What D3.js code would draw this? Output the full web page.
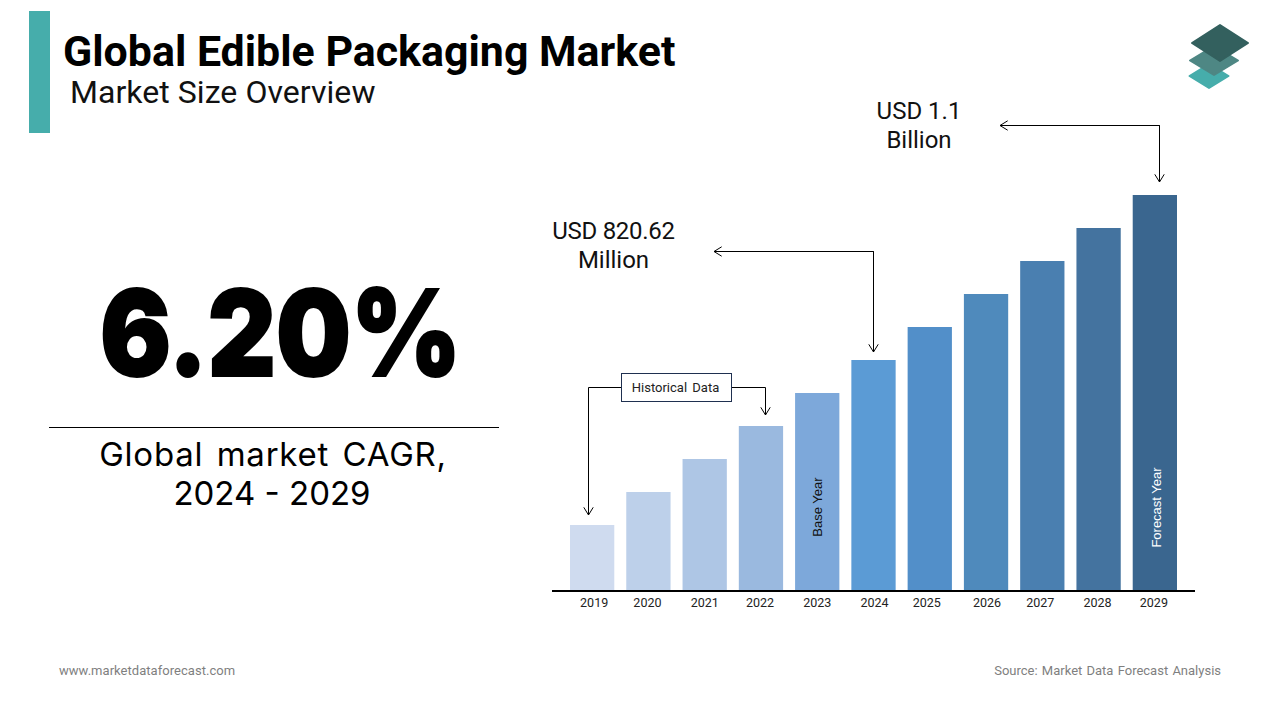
<!DOCTYPE html>
<html>
<head>
<meta charset="utf-8">
<script src="https://cdn.jsdelivr.net/npm/d3@7"></script>
<style>
  html, body { margin: 0; padding: 0; background: #fff; }
  svg { display: block; }
  text { font-family: Roboto, sans-serif; }
</style>
</head>
<body>
<svg id="chart" width="1280" height="720"></svg>
<script>
// Chart data (bar heights in picture units)
const years = ["2019", "2020", "2021", "2022", "2023", "2024", "2025", "2026", "2027", "2028", "2029"];
const sizes = [65, 98, 131, 164, 197, 230, 263, 296, 329, 362, 395];
const barColors = ["#cfdbef", "#bdd0ea", "#aec6e5", "#9ab9df", "#7da8da", "#5b9bd5", "#528fc9", "#4f8abc", "#4a7fb0", "#44739f", "#3a668f"];
// the year labels are not quite centred under the bars in the original
const tickNudge = [2, -1, 0, -1, 0, 1, -3, 1, -2, -1, -1];

const svg = d3.select("#chart");

// Scales
const x = d3.scaleBand().domain(years).range([570, 1177]).paddingInner(0.213).paddingOuter(0);
const y = d3.scaleLinear().domain([0, 395]).range([590, 195]);

// Header
svg.append("rect").attr("x", 29).attr("y", 11).attr("width", 21).attr("height", 122).attr("fill", "#46adab");
svg.append("text").attr("x", 63).attr("y", 66).attr("font-size", 42.9).attr("font-weight", 700).attr("fill", "#000")
  .text("Global Edible Packaging Market");
svg.append("text").attr("x", 70).attr("y", 103).attr("font-size", 32).attr("fill", "#111").attr("letter-spacing", 0.05)
  .text("Market Size Overview");

// Logo, three stacked diamonds
function diamond(cx, cy, w, h, fill) {
  svg.append("path")
    .attr("d", `M${cx},${cy - h + 1} L${cx + w - 1},${cy} L${cx},${cy + h - 1} L${cx - w + 1},${cy} Z`)
    .attr("fill", fill).attr("stroke", fill).attr("stroke-width", 2).attr("stroke-linejoin", "round");
}
diamond(1209, 76, 20.5, 13, "#46adab");
diamond(1214, 60.5, 25, 15.5, "#4e8784");
diamond(1220, 43, 29, 19, "#33605e");

// Left big number
svg.append("text").attr("x", 100).attr("y", 376)
  .style("font-family", "Inter, sans-serif")
  .attr("font-size", 120).attr("font-weight", 900).attr("fill", "#000")
  .attr("stroke", "#000").attr("stroke-width", 2)
  .attr("textLength", 361).attr("lengthAdjust", "spacingAndGlyphs").text("6.20%");
svg.append("line").attr("x1", 49).attr("x2", 499).attr("y1", 427.5).attr("y2", 427.5).attr("stroke", "#000");
svg.append("text").attr("x", 273).attr("y", 466).attr("text-anchor", "middle").style("font-family", "Inter, sans-serif")
  .attr("font-size", 33).attr("fill", "#000").attr("letter-spacing", 0.75).attr("word-spacing", 3.5).text("Global market CAGR,");
svg.append("text").attr("x", 272).attr("y", 505).attr("text-anchor", "middle").style("font-family", "Inter, sans-serif")
  .attr("font-size", 33).attr("fill", "#000").text("2024 - 2029");

// Bars
svg.selectAll("rect.bar")
  .data(years)
  .enter()
  .append("rect")
  .attr("class", "bar")
  .attr("x", d => x(d))
  .attr("y", (d, i) => y(sizes[i]))
  .attr("width", x.bandwidth())
  .attr("height", (d, i) => y(0) - y(sizes[i]))
  .attr("fill", (d, i) => barColors[i]);

// Axis
const axis = svg.append("g").attr("transform", "translate(0,590)")
  .call(d3.axisBottom(x).tickSize(0).tickPadding(8));
axis.select(".domain").remove();
axis.selectAll("text")
  .attr("dx", (d, i) => tickNudge[i])
  .attr("font-size", 12.5).attr("fill", "#222").style("font-family", "Roboto, sans-serif");
svg.append("line").attr("x1", 552).attr("x2", 1195).attr("y1", 591).attr("y2", 591).attr("stroke", "#000").attr("stroke-width", 2);

// Labels inside the bars
function barLabel(year, txt, fill, cy, dx) {
  svg.append("text")
    .attr("transform", `translate(${x(year) + x.bandwidth() / 2 + dx},${cy}) rotate(-90)`)
    .attr("text-anchor", "middle").style("font-family", "'Liberation Sans', sans-serif")
    .attr("font-size", 13).attr("fill", fill)
    .text(txt);
}
barLabel("2023", "Base Year", "#111", 507, 5);
barLabel("2029", "Forecast Year", "#fff", 507.5, 6);

// Arrows
function arrow(points) {
  svg.append("path").attr("d", d3.line()(points)).attr("fill", "none").attr("stroke", "#000").attr("stroke-width", 1);
  const [a, b] = points.slice(-2);
  const ang = Math.atan2(b[1] - a[1], b[0] - a[0]);
  [-1, 1].forEach(s => {
    const t = ang + Math.PI + s * 0.55;
    svg.append("line").attr("x1", b[0]).attr("y1", b[1])
      .attr("x2", b[0] + 9 * Math.cos(t)).attr("y2", b[1] + 9 * Math.sin(t))
      .attr("stroke", "#000").attr("stroke-width", 1);
  });
}
function doubleArrow(points) {
  arrow(points);
  arrow(points.slice().reverse());
}
doubleArrow([[1000, 125.5], [1159.5, 125.5], [1159.5, 182]]);
doubleArrow([[714, 251.5], [873.5, 251.5], [873.5, 352]]);
arrow([[621, 387.5], [588.5, 387.5], [588.5, 515]]);
arrow([[732, 387.5], [765.5, 387.5], [765.5, 415]]);

// Historical data box
svg.append("rect").attr("x", 621.5).attr("y", 373.5).attr("width", 110).attr("height", 28)
  .attr("fill", "#fff").attr("stroke", "#1f3050").attr("stroke-width", 1);
svg.append("text").attr("x", 675.5).attr("y", 392).attr("text-anchor", "middle").attr("font-size", 13).attr("fill", "#222")
  .attr("word-spacing", 2).text("Historical Data");

// Callouts
function callout(cx, y1, y2, l1, l2, spacing) {
  svg.append("text").attr("x", cx).attr("y", y1).attr("text-anchor", "middle").attr("font-size", 24).attr("fill", "#111")
    .attr("letter-spacing", spacing).text(l1);
  svg.append("text").attr("x", cx).attr("y", y2).attr("text-anchor", "middle").attr("font-size", 24).attr("fill", "#111").text(l2);
}
callout(919, 119, 148, "USD 1.1", "Billion", 0);
callout(613.5, 239, 268, "USD 820.62", "Million", -0.3);

// Footer
svg.append("text").attr("x", 59).attr("y", 675).attr("font-size", 13).attr("fill", "#7f7f7f").attr("letter-spacing", 0.04).text("www.marketdataforecast.com");
svg.append("text").attr("x", 1221).attr("y", 675).attr("text-anchor", "end").attr("font-size", 13).attr("fill", "#7f7f7f").attr("word-spacing", 1).text("Source: Market Data Forecast Analysis");
</script>
</body>
</html>
